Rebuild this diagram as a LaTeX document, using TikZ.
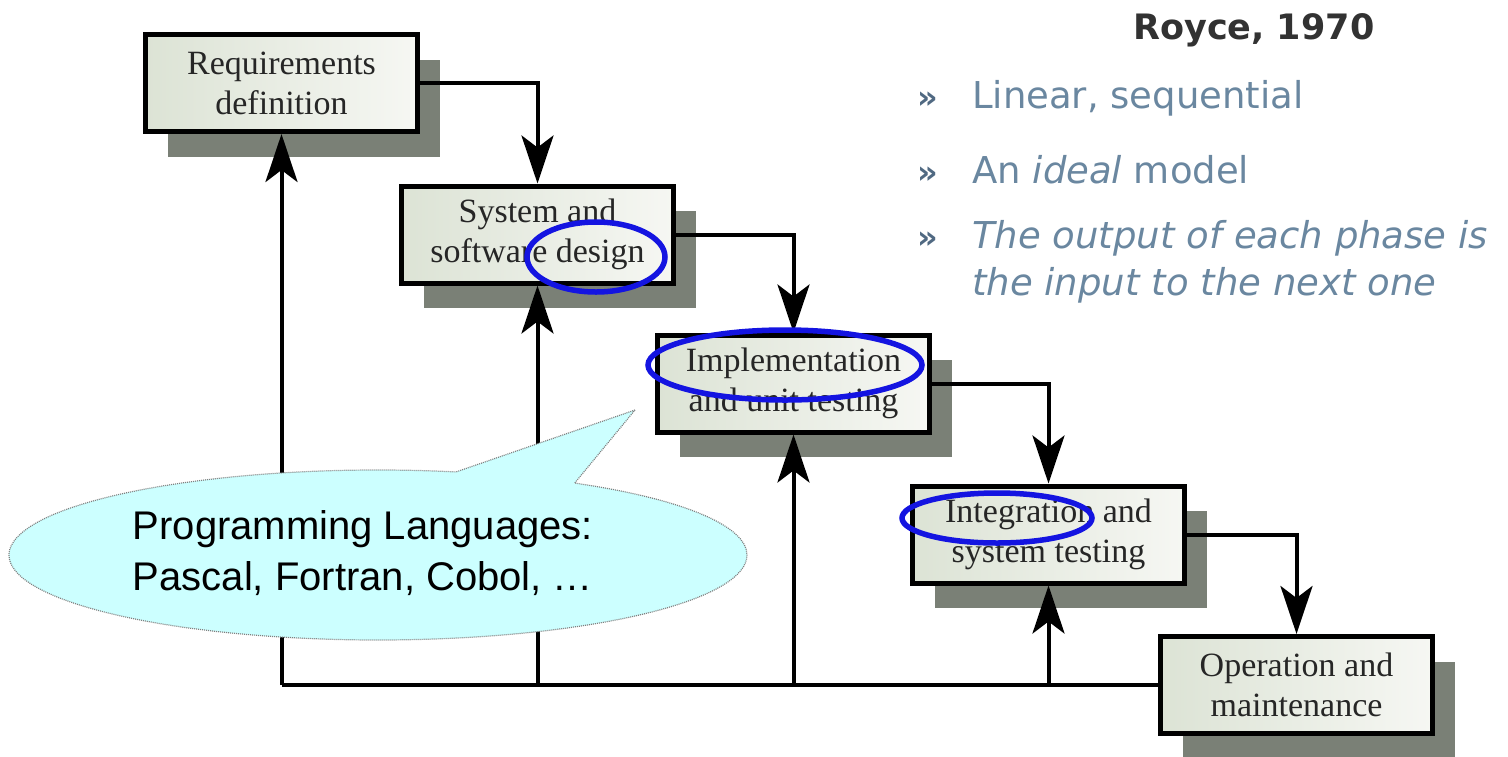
\documentclass[tikz,border=0pt]{standalone}
\usepackage{fontspec}
\setmainfont{Liberation Serif}
\newfontfamily\sansf{Liberation Sans}
\newfontfamily\dejav{DejaVu Sans}
\usetikzlibrary{arrows.meta,shapes.callouts,shapes.geometric,shadows}
\definecolor{shadowc}{RGB}{122,128,118}
\definecolor{boxl}{RGB}{220,227,213}
\definecolor{boxr}{RGB}{246,247,243}
\definecolor{slate}{RGB}{106,135,160}
\definecolor{bulc}{RGB}{80,105,130}
\definecolor{roycec}{RGB}{50,50,50}
\definecolor{hlblue}{RGB}{20,20,225}
\definecolor{callfill}{RGB}{204,255,255}
\begin{document}
\begin{tikzpicture}[x=1pt,y=-1pt,
  phase/.style={draw=black, line width=5pt, left color=boxl, right color=boxr,
    minimum width=272pt, minimum height=97pt, align=center, inner sep=0pt,
    text=black!85, font=\fontsize{34}{40}\selectfont,
    drop shadow={shadow xshift=22pt, shadow yshift=-25pt, fill=shadowc, opacity=1}},
  flow/.style={line width=4pt, -{Stealth[length=48pt,width=32pt,inset=12pt]}},
  fb/.style={line width=4pt},
  hl/.style={draw=hlblue, line width=5.5pt, ellipse, inner sep=0pt},
  bul/.style={anchor=base west, inner sep=0pt, text=bulc, font=\dejav\bfseries\fontsize{32}{40}\selectfont},
  itemtxt/.style={anchor=base west, inner sep=0pt, text=slate, font=\dejav\fontsize{37}{44}\selectfont}]
\useasboundingbox (0,0) rectangle (1508,756);

% phases
\node[phase] (req) at (281.5,83) {Requirements\\definition};
\node[phase] (sys) at (537.5,234.5) {System and\\software design};
\node[phase] (impl) at (793.5,383.5) {Implementation\\and unit testing};
\node[phase] (integ) at (1048.5,534.5) {Integration and\\system testing};
\node[phase] (op) at (1296.5,685) {Operation and\\maintenance};

% forward flow
\draw[flow] (req.east) -| (sys.north);
\draw[flow] (sys.east) -| (impl.north);
\draw[flow] (impl.east) -| (integ.north);
\draw[flow] (integ.east) -| (op.north);

% feedback
\coordinate (fbend) at (req.south |- op.west);
\draw[fb] (op.west) -- (fbend);
\draw[flow] (fbend) -- (req.south);
\draw[flow] (sys.south |- op.west) -- (sys.south);
\draw[flow] (impl.south |- op.west) -- (impl.south);
\draw[flow] (integ.south |- op.west) -- (integ.south);

% callout
\node[ellipse callout, draw=gray, dash pattern=on 1pt off 1pt, line width=1.2pt, fill=callfill,
  minimum width=738pt, minimum height=170pt, inner sep=0pt,
  callout absolute pointer={(635,410)}, callout pointer arc=20] (call) at (378,555) {};
\node[align=left, inner sep=0pt, font=\sansf\fontsize{40}{51}\selectfont] (calltxt) at (363,553)
  {Programming Languages:\\Pascal, Fortran, Cobol, …};

% highlights
\node[hl, minimum width=138pt, minimum height=70pt] (h1) at (596,257) {};
\node[hl, minimum width=274pt, minimum height=70pt] (h2) at (785,365) {};
\node[hl, minimum width=190pt, minimum height=50pt] (h3) at (997,518) {};

% right text
\node[anchor=base west, inner sep=0pt, text=roycec, font=\dejav\bfseries\fontsize{35}{42}\selectfont] (title) at (1133,39) {Royce, 1970};
\node[bul] (b1) at (917,108) {»};
\node[itemtxt] (t1) at (972,108) {Linear, sequential};
\node[bul] (b2) at (917,183) {»};
\node[itemtxt] (t2) at (972,183) {An \textit{ideal} model};
\node[bul] (b3) at (917,248) {»};
\node[itemtxt] (t3) at (972,248) {\itshape The output of each phase is};
\node[itemtxt] (t4) at (972,295) {\itshape the input to the next one};
\end{tikzpicture}
\end{document}
